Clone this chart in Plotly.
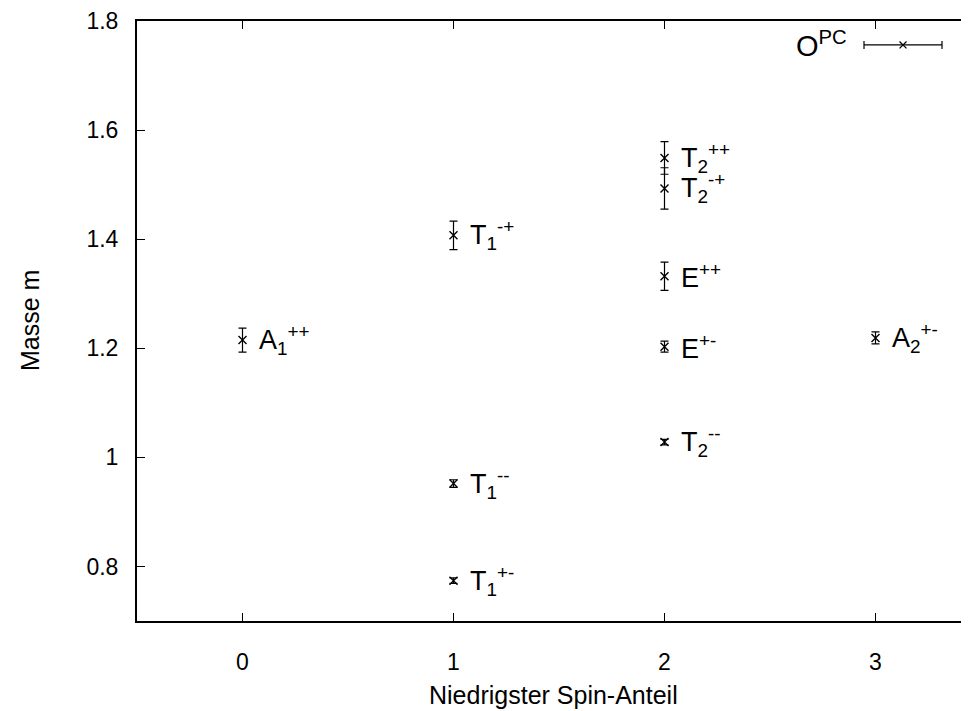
import plotly.graph_objects as go

# ---- data ----
spin = [0, 1, 1, 1, 2, 2, 2, 2, 2, 3]
mass = [1.215, 1.407, 0.952, 0.774, 1.549, 1.493, 1.332, 1.203, 1.028, 1.219]
mass_err = [0.022, 0.026, 0.007, 0.005, 0.030, 0.038, 0.026, 0.010, 0.005, 0.011]
labels = [
    "A<sub>1</sub><sup>++</sup>",
    "T<sub>1</sub><sup>-+</sup>",
    "T<sub>1</sub><sup>--</sup>",
    "T<sub>1</sub><sup>+-</sup>",
    "T<sub>2</sub><sup>++</sup>",
    "T<sub>2</sub><sup>-+</sup>",
    "E<sup>++</sup>",
    "E<sup>+-</sup>",
    "T<sub>2</sub><sup>--</sup>",
    "A<sub>2</sub><sup>+-</sup>",
]
series_name = "O<sup>PC</sup>"
x_tickvals = [0, 1, 2, 3]
x_ticktext = ["0", "1", "2", "3"]
y_tickvals = [0.8, 1.0, 1.2, 1.4, 1.6, 1.8]
y_ticktext = ["0.8", "1", "1.2", "1.4", "1.6", "1.8"]
x_title = "Niedrigster Spin-Anteil"
y_title = "Masse m"

FONT = "Liberation Sans, Arial, Helvetica, sans-serif"
OFF = 8  # page body margin
W, H = 969 - OFF, 711 - OFF
ML, MT, MB, MR = 137 - OFF, 19 - OFF, 90, 0
TICK_FS, TITLE_FS, LABEL_FS, KEY_FS = 23, 25, 27, 29

fig = go.Figure()
fig.add_trace(go.Scatter(
    x=spin, y=mass, mode="markers",
    marker=dict(symbol="x-thin-open", size=8, color="black",
                line=dict(color="black", width=1.4)),
    error_y=dict(type="data", array=mass_err, visible=True,
                 color="black", thickness=1.2, width=4),
    showlegend=False, name="O PC",
))
# invisible trace to hold y2 (right-side ticks)
fig.add_trace(go.Scatter(x=[spin[0]], y=[mass[0]], yaxis="y2",
                         mode="markers", marker=dict(opacity=0),
                         showlegend=False, hoverinfo="skip"))

for xv, yv, lab in zip(spin, mass, labels):
    fig.add_annotation(x=xv, y=yv, text=lab, showarrow=False,
                       xanchor="left", yanchor="middle", xshift=14, yshift=0,
                       font=dict(family=FONT, size=LABEL_FS, color="black"))

# key (legend) in gnuplot style; positions given in page pixels
pw = W - ML - MR
ph = H - MT - MB
def px(xp):
    return (xp - OFF - ML) / pw
def py(yp):
    return (H - MB - (yp - OFF)) / ph
ky = 43
kx0, kx1, kxc = 864, 942, 903
fig.add_shape(type="line", xref="paper", yref="paper", x0=px(kx0), x1=px(kx1),
              y0=py(ky), y1=py(ky), line=dict(color="black", width=1.2))
for xx in (kx0, kx1):
    fig.add_shape(type="line", xref="paper", yref="paper", x0=px(xx), x1=px(xx),
                  y0=py(ky - 4), y1=py(ky + 4), line=dict(color="black", width=1.2))
for d in (1, -1):
    fig.add_shape(type="line", xref="paper", yref="paper",
                  x0=px(kxc - 3.5), x1=px(kxc + 3.5),
                  y0=py(ky - 3.5 * d), y1=py(ky + 3.5 * d),
                  line=dict(color="black", width=1.3))
fig.add_annotation(xref="paper", yref="paper", x=px(849), y=py(ky - 1), text=series_name,
                   showarrow=False, xanchor="right", yanchor="middle",
                   font=dict(family=FONT, size=KEY_FS, color="black"))

# axis titles
fig.add_annotation(xref="paper", yref="paper", x=0.5, y=0, yanchor="middle",
                   xanchor="center", yshift=-74, text=x_title, showarrow=False,
                   font=dict(family=FONT, size=TITLE_FS, color="black"))
fig.add_annotation(xref="paper", yref="paper", x=0, y=0.5, yanchor="middle",
                   xanchor="center", xshift=-(137 - 30), text=y_title, showarrow=False,
                   textangle=-90, font=dict(family=FONT, size=TITLE_FS, color="black"))

axis_common = dict(ticks="inside", ticklen=8, tickwidth=1, tickcolor="black",
                   showgrid=False, zeroline=False, linecolor="black", linewidth=2,
                   showline=True, ticklabeloverflow="allow",
                   tickfont=dict(family=FONT, size=TICK_FS, color="black"))
fig.update_layout(
    width=W, height=H,
    margin=dict(l=ML, r=MR, t=MT, b=MB),
    paper_bgcolor="white", plot_bgcolor="white",
    font=dict(family=FONT, color="black"),
    xaxis=dict(range=[-0.5, -0.5 + pw / 211.0], tickvals=x_tickvals, ticktext=x_ticktext,
               mirror="ticks", ticklabelstandoff=19, **axis_common),
    yaxis=dict(range=[0.7, 1.8000001], tickvals=y_tickvals, ticktext=y_ticktext,
               mirror=False, ticklabelstandoff=12, **axis_common),
    yaxis2=dict(range=[0.7, 1.8000001], overlaying="y", side="right", tickvals=y_tickvals,
                showticklabels=False, ticks="inside", ticklen=6, tickcolor="black",
                showline=False, showgrid=False, zeroline=False),
)
fig.write_html("out.html")
